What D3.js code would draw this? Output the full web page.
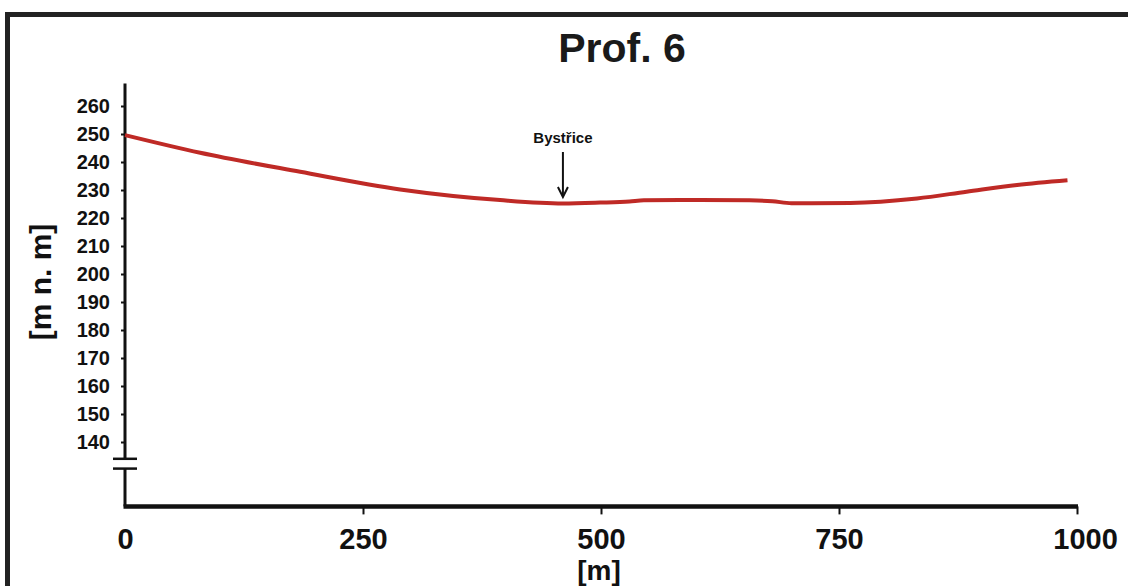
<!DOCTYPE html>
<html>
<head>
<meta charset="utf-8">
<script src="https://cdn.jsdelivr.net/npm/d3@7/dist/d3.min.js"></script>
<style>
  body{margin:0;background:#fff}
  svg{display:block}
</style>
</head>
<body>
<script>
// profile data
var distance=[0,79,184,289,394,460,499,530,545,604,656,680,700,762,832,884,937,990]
var elevation=[249.6,243.3,236.5,230.2,226.4,225.2,225.5,225.9,226.3,226.4,226.3,226.0,225.3,225.4,227.0,229.4,231.8,233.5]
var yTicks=[140,150,160,170,180,190,200,210,220,230,240,250,260]
var xTicks=[0,250,500,750,1000]
var title="Prof. 6"
var yLabel="[m n. m]"
var xLabel="[m]"
var placeName="Bystřice"
var placeAt=460

var drawProfile=function(){
  var screen={width:1128,height:586}
  var font="'Liberation Sans', Arial, sans-serif"

  var svg=d3.select("body").append("svg")
    .attr('width', screen.width)
    .attr('height', screen.height)

  //scale
  var xScale=d3.scaleLinear()
    .domain([0,1000])
    .range([125,1077])
  var yScale=d3.scaleLinear()
    .domain([140,260])
    .range([442,106])

  // frame (left + top edges only)
  svg.append("path")
    .attr('d', 'M7.5,' + screen.height + 'V14.5H' + screen.width)
    .attr('fill', 'none')
    .attr('stroke', '#222')
    .attr('stroke-width', 5)

  // title
  svg.append("text")
    .attr('x', 622)
    .attr('y', 62)
    .attr('text-anchor', 'middle')
    .attr('font-family', font)
    .attr('font-weight', 'bold')
    .attr('font-size', 41)
    .attr('fill', '#1a1a1a')
    .text(title)

  // y axis, broken near the bottom
  var x0=xScale(0)
  var baseY=yScale(117)
  svg.append("line")
    .attr('x1', x0).attr('x2', x0)
    .attr('y1', yScale(268)).attr('y2', yScale(134))
    .attr('stroke', '#111').attr('stroke-width', 3)
  svg.append("line")
    .attr('x1', x0).attr('x2', x0)
    .attr('y1', yScale(130.5)).attr('y2', baseY)
    .attr('stroke', '#111').attr('stroke-width', 3)
  svg.selectAll(".brk")
    .data([134,130.5])
    .enter()
    .append("line")
    .attr('class', 'brk')
    .attr('x1', x0-12).attr('x2', x0+12)
    .attr('y1', function(d){return yScale(d)})
    .attr('y2', function(d){return yScale(d)})
    .attr('stroke', '#111').attr('stroke-width', 2.5)

  var yAxis=d3.axisLeft(yScale)
    .tickValues(yTicks)
    .tickSize(4)
    .tickPadding(11)
  var gy=svg.append("g")
    .attr('transform', 'translate(' + x0 + ',0)')
    .call(yAxis)
  gy.select(".domain").remove()
  gy.selectAll("line").attr('stroke', '#111').attr('stroke-width', 2)
  gy.selectAll("text")
    .attr('font-family', font)
    .attr('font-weight', 'bold')
    .attr('font-size', 20)
    .attr('fill', '#111')

  svg.append("text")
    .attr('transform', 'translate(51,282) rotate(-90)')
    .attr('text-anchor', 'middle')
    .attr('font-family', font)
    .attr('font-weight', 'bold')
    .attr('font-size', 30)
    .attr('fill', '#111')
    .text(yLabel)

  // x axis
  svg.append("line")
    .attr('x1', x0-1.5).attr('x2', xScale(1000)+1)
    .attr('y1', baseY).attr('y2', baseY)
    .attr('stroke', '#111').attr('stroke-width', 4.5)
  var xAxis=d3.axisBottom(xScale)
    .tickValues(xTicks)
    .tickFormat(d3.format("d"))
    .tickSize(8)
    .tickPadding(14)
  var gx=svg.append("g")
    .attr('transform', 'translate(0,' + baseY + ')')
    .call(xAxis)
  gx.select(".domain").remove()
  gx.selectAll("line").attr('stroke', '#111').attr('stroke-width', 2)
    .attr('opacity', function(d){return d==0 ? 0 : 1})
  gx.selectAll("text")
    .attr('font-family', font)
    .attr('font-weight', 'bold')
    .attr('font-size', 29)
    .attr('fill', '#111')
    .attr('dx', function(d){return d==1000 ? 8 : 0})

  svg.append("text")
    .attr('x', xScale(500)-2)
    .attr('y', 580)
    .attr('text-anchor', 'middle')
    .attr('font-family', font)
    .attr('font-weight', 'bold')
    .attr('font-size', 28)
    .attr('fill', '#111')
    .text(xLabel)

  // profile line
  var line=d3.line()
    .x(function(d){return xScale(d[0])})
    .y(function(d){return yScale(d[1])})
    .curve(d3.curveMonotoneX)
  svg.append("path")
    .datum(d3.zip(distance,elevation))
    .attr('d', line)
    .attr('fill', 'none')
    .attr('stroke', '#bf2a26')
    .attr('stroke-width', 4)

  // river marker
  var px=xScale(placeAt)
  svg.append("text")
    .attr('x', px)
    .attr('y', 143)
    .attr('text-anchor', 'middle')
    .attr('font-family', font)
    .attr('font-weight', 'bold')
    .attr('font-size', 15)
    .attr('fill', '#111')
    .text(placeName)
  svg.append("line")
    .attr('x1', px).attr('x2', px)
    .attr('y1', 152).attr('y2', 196)
    .attr('stroke', '#111').attr('stroke-width', 2)
  svg.append("path")
    .attr('d', 'M' + (px-5) + ',187L' + px + ',197L' + (px+5) + ',187')
    .attr('fill', 'none')
    .attr('stroke', '#111')
    .attr('stroke-width', 2)
}

drawProfile()
</script>
</body>
</html>
